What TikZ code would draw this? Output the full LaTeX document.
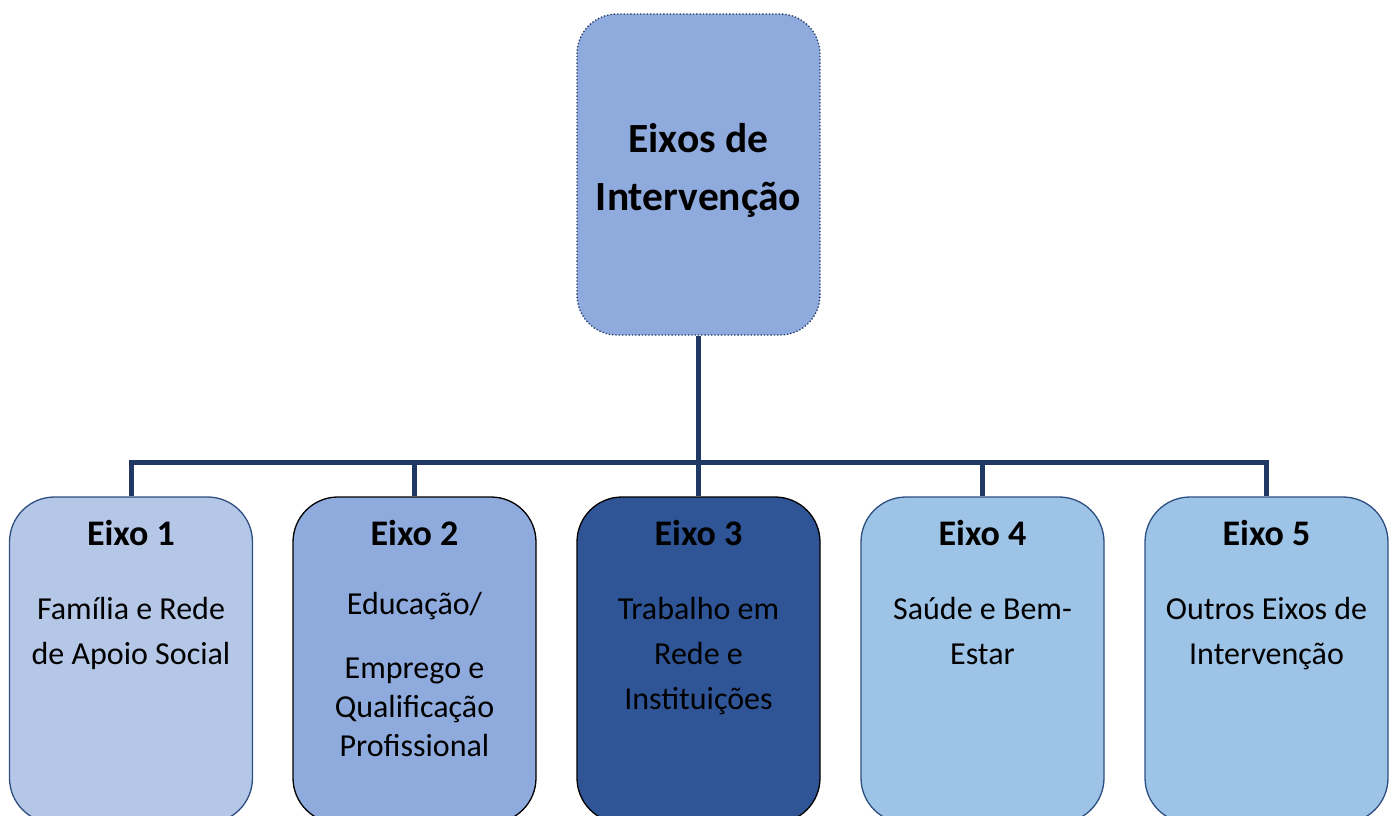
\documentclass[tikz,border=0pt]{standalone}
\usepackage{fontspec}
\setmainfont{Carlito}
\definecolor{topfill}{HTML}{8FAADC}
\definecolor{navy}{HTML}{203864}
\definecolor{fillA}{HTML}{B4C7E7}
\definecolor{fillB}{HTML}{8FAADC}
\definecolor{fillC}{HTML}{2F5597}
\definecolor{fillD}{HTML}{9DC3E6}
\definecolor{edgeA}{HTML}{2F4F80}
\begin{document}
\begin{tikzpicture}[x=1pt,y=-1pt,
  box/.style={rectangle, rounded corners=45pt, minimum width=243pt, minimum height=326pt, line width=1.3pt, inner sep=0pt},
  conn/.style={draw=navy, line width=5pt},
  ttl/.style={font=\fontsize{41.5}{48}\selectfont\bfseries, anchor=base, inner sep=0pt},
  bt/.style={font=\fontsize{36}{40}\selectfont\bfseries, anchor=base, inner sep=0pt},
  bd/.style={font=\fontsize{32}{38}\selectfont, anchor=base, inner sep=0pt}]
\useasboundingbox (0,0) rectangle (1398,816);
\fill[white] (0,0) rectangle (1398,816);
\begin{scope}
\clip (0,0) rectangle (1398,816);
% top box
\node[rectangle, rounded corners=40pt, minimum width=243pt, minimum height=321pt, fill=topfill, draw=navy, dotted, line width=1.3pt] (top) at (698.5,174.5) {};
\node[ttl] (t1) at (698.5,152) {Eixos de};
\node[ttl] (t2) at (698.5,210) {Intervenção};
% bottom boxes
\node[box, fill=fillA, draw=edgeA] (e1) at (131,660) {};
\node[box, fill=fillB, draw=black] (e2) at (414.5,660) {};
\node[box, fill=fillC, draw=black] (e3) at (698.5,660) {};
\node[box, fill=fillD, draw=edgeA] (e4) at (982.5,660) {};
\node[box, fill=fillD, draw=edgeA] (e5) at (1266.5,660) {};
% connectors
\coordinate (bus) at (698.5,462);
\draw[conn] (top.south) -- (bus);
\draw[conn] (e1.north) |- (bus) -| (e5.north);
\draw[conn] (e2.north) -- (e2.north |- bus);
\draw[conn] (e3.north) -- (e3.north |- bus);
\draw[conn] (e4.north) -- (e4.north |- bus);
\end{scope}
% texts
\node[bt] (h1) at (131,545) {Eixo 1};
\node[bd] (a1) at (131,619) {Família e Rede};
\node[bd] (a2) at (131,664) {de Apoio Social};
\node[bt] (h2) at (414.5,545) {Eixo 2};
\node[bd] (b1) at (414.5,614) {Educação/};
\node[bd] (b2) at (414.5,678) {Emprego e};
\node[bd] (b3) at (414.5,717) {Qualificação};
\node[bd] (b4) at (414.5,756) {Profissional};
\node[bt] (h3) at (698.5,545) {Eixo 3};
\node[bd] (c1) at (698.5,619) {Trabalho em};
\node[bd] (c2) at (698.5,664) {Rede e};
\node[bd] (c3) at (698.5,709) {Instituições};
\node[bt] (h4) at (982.5,545) {Eixo 4};
\node[bd] (d1) at (982.5,619) {Saúde e Bem-};
\node[bd] (d2) at (982.5,664) {Estar};
\node[bt] (h5) at (1266.5,545) {Eixo 5};
\node[bd] (f1) at (1266.5,619) {Outros Eixos de};
\node[bd] (f2) at (1266.5,664) {Intervenção};
\end{tikzpicture}
\end{document}
